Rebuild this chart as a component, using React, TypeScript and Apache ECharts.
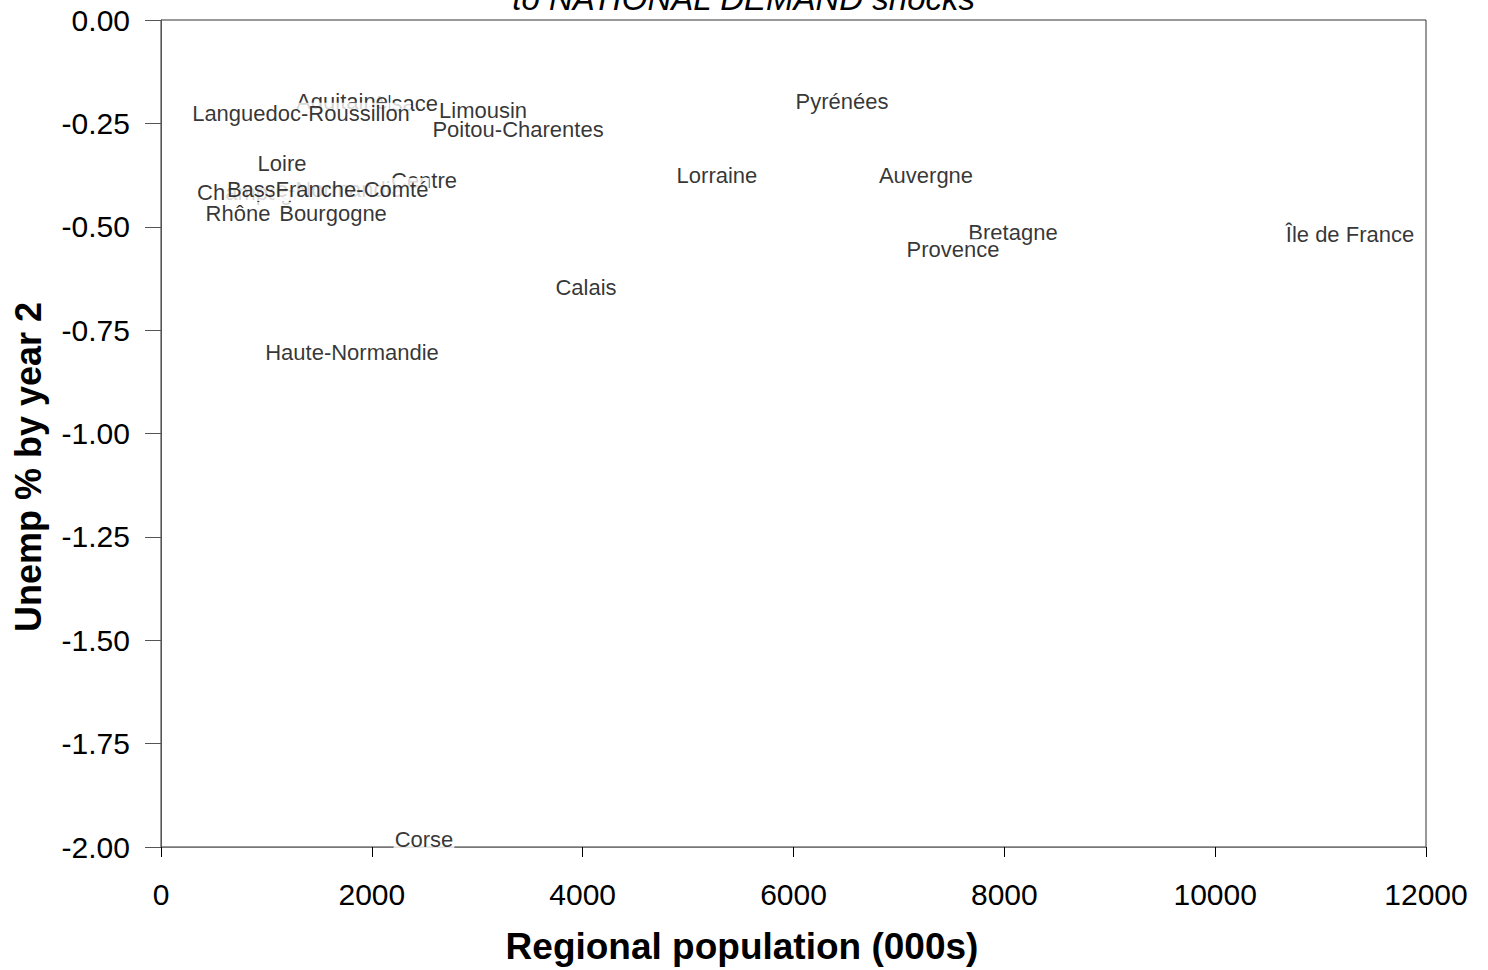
import React, { useEffect, useRef } from "react";
import * as echarts from "echarts";

const regions = [
  "Alsace", "Aquitaine", "Languedoc-Roussillon", "Limousin", "Poitou-Charentes",
  "Pyrénées", "Loire", "Champagne", "Basse-Normandie", "Centre", "Franche-Comté",
  "Lorraine", "Auvergne", "Rhône", "Bourgogne", "Bretagne", "Provence",
  "Île de France", "Calais", "Haute-Normandie", "Corse",
];
const population = [
  2315, 1717, 1328, 3055, 3387,
  6460, 1148, 911, 1460, 2495, 1812,
  5274, 7257, 730, 1632, 8082, 7513,
  11279, 4032, 1812, 2495,
];
const unempYear2 = [
  -0.203, -0.196, -0.227, -0.218, -0.264,
  -0.198, -0.346, -0.418, -0.411, -0.389, -0.409,
  -0.375, -0.377, -0.467, -0.467, -0.515, -0.556,
  -0.518, -0.648, -0.803, -1.981,
];
const xTicks = { min: 0, max: 12000, interval: 2000 };
const yTicks = { min: -2, max: 0, interval: 0.25 };

const FONT = "Liberation Sans, Arial, Helvetica, sans-serif";

export default function App() {
  const ref = useRef<HTMLDivElement>(null);
  useEffect(() => {
    if (!ref.current) return;
    const chart = echarts.init(ref.current, null, { renderer: "svg" });
    const data = regions.map((name, i) => ({ name, value: [population[i], unempYear2[i]] }));
    chart.setOption({
      animation: false,
      backgroundColor: "#fff",
      textStyle: { fontFamily: FONT },
      graphic: [
        {
          type: "text",
          left: "center",
          top: -18,
          z: 100,
          style: {
            text: "to NATIONAL DEMAND shocks",
            font: "italic 33px " + FONT,
            fill: "#000",
          },
        },
        {
          type: "text",
          x: 742,
          y: 946,
          z: 100,
          style: {
            text: "Regional population (000s)",
            font: "bold 37px " + FONT,
            fill: "#000",
            align: "center",
            verticalAlign: "middle",
            textAlign: "center",
            textVerticalAlign: "middle",
          },
        },
        {
          type: "text",
          x: 28,
          y: 467,
          rotation: Math.PI / 2,
          z: 100,
          style: {
            text: "Unemp % by year 2",
            font: "bold 36px " + FONT,
            fill: "#000",
            align: "center",
            verticalAlign: "middle",
            textAlign: "center",
            textVerticalAlign: "middle",
          },
        },
      ],
      grid: {
        left: 161,
        right: 62,
        top: 20,
        bottom: 123,
        outerBoundsMode: "none",
        containLabel: false,
        show: true,
        borderColor: "#333",
        borderWidth: 1,
        backgroundColor: "#fff",
      },
      xAxis: {
        type: "value",
        min: xTicks.min,
        max: xTicks.max,
        interval: xTicks.interval,
        axisLine: { show: true, onZero: false, lineStyle: { color: "#777", width: 1 } },
        axisTick: { show: true, length: 10, lineStyle: { color: "#000" } },
        axisLabel: {
          fontSize: 30,
          color: "#000",
          margin: 32,
          fontFamily: FONT,
          formatter: (v: number) => String(v),
        },
        splitLine: { show: false },
      },
      yAxis: {
        type: "value",
        min: yTicks.min,
        max: yTicks.max,
        interval: yTicks.interval,
        axisLine: { show: true, onZero: false, lineStyle: { color: "#555", width: 1 } },
        axisTick: { show: true, length: 16, lineStyle: { color: "#555" } },
        axisLabel: {
          fontSize: 30,
          color: "#000",
          margin: 31,
          fontFamily: FONT,
          formatter: (v: number) => v.toFixed(2),
        },
        splitLine: { show: false },
      },
      series: [
        {
          type: "scatter",
          silent: true,
          symbolSize: 1,
          itemStyle: { color: "rgba(0,0,0,0)" },
          data,
          label: {
            show: true,
            position: "inside",
            formatter: (p: any) => p.name,
            color: "#000",
            fontSize: 22,
            fontFamily: FONT,
            backgroundColor: "#fff",
            padding: [0, 1],
          },
          emphasis: { disabled: true },
        },
      ],
    });
    return () => chart.dispose();
  }, []);
  return (
    <div
      ref={ref}
      style={{ position: "absolute", left: 0, top: 0, width: 1488, height: 970 }}
    />
  );
}
